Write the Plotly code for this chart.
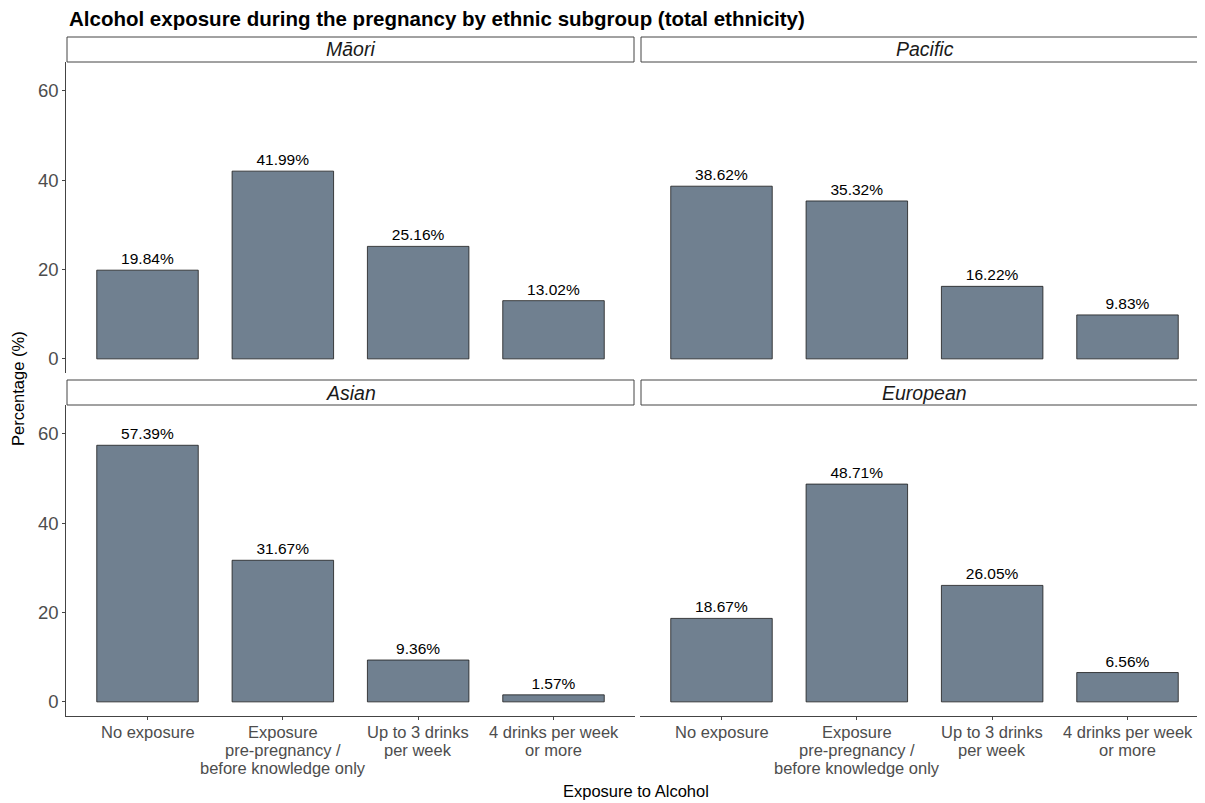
import plotly.graph_objects as go

# browser body margin offset (page draws figure at 8px,8px)
OFF = 8
SW, SH = 1205, 803
W, H = SW - OFF, SH - OFF

categories = ["No exposure",
              "Exposure<br>pre-pregnancy /<br>before knowledge only",
              "Up to 3 drinks<br>per week",
              "4 drinks per week<br>or more"]
panels = ["Māori", "Pacific", "Asian", "European"]
maori = [19.84, 41.99, 25.16, 13.02]
pacific = [38.62, 35.32, 16.22, 9.83]
asian = [57.39, 31.67, 9.36, 1.57]
european = [18.67, 48.71, 26.05, 6.56]
values = [maori, pacific, asian, european]
y_ticks = [0, 20, 40, 60]

BAR = "#708090"
FONT = "Liberation Sans, Arial, sans-serif"
AXC = "#4d4d4d"


def px(x):
    return (x - OFF) / W


def py(y):
    return 1 - (y - OFF) / H


# panel pixel boxes in screen coordinates
xl = (66.3, 634.7)
xr = (640.3, 1205)
yt = (62, 373)
yb = (405, 716)
boxes = [(xl, yt), (xr, yt), (xl, yb), (xr, yb)]

fig = go.Figure()
xpos = [1, 2, 3, 4]
for i, (name, vals) in enumerate(zip(panels, values)):
    ax = "" if i == 0 else str(i + 1)
    fig.add_trace(go.Bar(
        x=xpos, y=vals, width=0.75,
        marker=dict(color=BAR, line=dict(color="#1a1a1a", width=0.8)),
        text=[f"{v:.2f}%" for v in vals], textposition="outside",
        textfont=dict(family=FONT, size=15.5, color="black"),
        cliponaxis=False, xaxis="x" + ax, yaxis="y" + ax,
        showlegend=False, hoverinfo="skip"))

layout = dict(
    width=W, height=H, margin=dict(l=0, r=0, t=0, b=0),
    plot_bgcolor="white", paper_bgcolor="white",
    font=dict(family=FONT, color="black"),
)

shapes = []
annotations = []
span = 4.2 / (634.7 - 66.3)
for i, ((x0, x1), (y0, y1)) in enumerate(boxes):
    ax = "" if i == 0 else str(i + 1)
    left = i in (0, 2)
    bottom = i in (2, 3)
    xr_hi = 0.4 + (x1 - x0) * span
    layout["xaxis" + ax] = dict(
        domain=[px(x0), min(px(x1), 1)], range=[0.4, xr_hi], anchor="y" + ax,
        tickvals=xpos, showticklabels=False, showline=bottom,
        linecolor="#444444", linewidth=1,
        ticks="outside" if bottom else "", ticklen=3, tickcolor="#444444",
        showgrid=False, zeroline=False, fixedrange=True)
    layout["yaxis" + ax] = dict(
        domain=[py(y1), py(y0)], range=[-3.16, 66.4], anchor="x" + ax,
        tickvals=y_ticks, showticklabels=left, showline=left,
        linecolor="#444444", linewidth=1,
        ticks="outside" if left else "", ticklen=3, tickcolor="#444444",
        tickfont=dict(family=FONT, size=18.5, color=AXC),
        showgrid=False, zeroline=False, fixedrange=True)
    # facet strip
    sy0 = y0 - 25
    shapes.append(dict(type="rect", xref="paper", yref="paper",
                       x0=px(x0 + 0.7), x1=px(x1 - 0.7) if i % 2 == 0 else 1.01,
                       y0=py(y0), y1=py(sy0),
                       line=dict(color="#444444", width=1), fillcolor="white"))
    cx = (x0 + (1208.7 if i % 2 else x1)) / 2
    annotations.append(dict(xref="paper", yref="paper", x=px(cx), y=py(sy0 + 12.5),
                            text=f"<i>{panels[i]}</i>", showarrow=False,
                            font=dict(family=FONT, size=19.5, color="#1a1a1a"),
                            xanchor="center", yanchor="middle"))
    # category tick labels (bottom row), ggplot-like tight line height
    if bottom:
        for xv, lab in zip(xpos, categories):
            for k, line in enumerate(lab.split("<br>")):
                annotations.append(dict(
                    xref="x" + ax, yref="paper", x=xv, y=py(732 + 18 * k),
                    text=line, showarrow=False, xanchor="center", yanchor="middle",
                    font=dict(family=FONT, size=16.5, color=AXC)))

annotations.append(dict(xref="paper", yref="paper", x=px(67), y=py(19),
                        text="<b>Alcohol exposure during the pregnancy by ethnic subgroup (total ethnicity)</b>",
                        showarrow=False, xanchor="left", yanchor="middle",
                        font=dict(family=FONT, size=20.5, color="black")))
annotations.append(dict(xref="paper", yref="paper", x=px(18), y=py(389),
                        text="Percentage (%)", textangle=-90, showarrow=False,
                        xanchor="center", yanchor="middle",
                        font=dict(family=FONT, size=16.5, color="black")))
annotations.append(dict(xref="paper", yref="paper", x=px(636), y=py(791),
                        text="Exposure to Alcohol", showarrow=False,
                        xanchor="center", yanchor="middle",
                        font=dict(family=FONT, size=16.5, color="black")))

layout["shapes"] = shapes
layout["annotations"] = annotations
fig.update_layout(**layout)
fig.write_html("out.html")
